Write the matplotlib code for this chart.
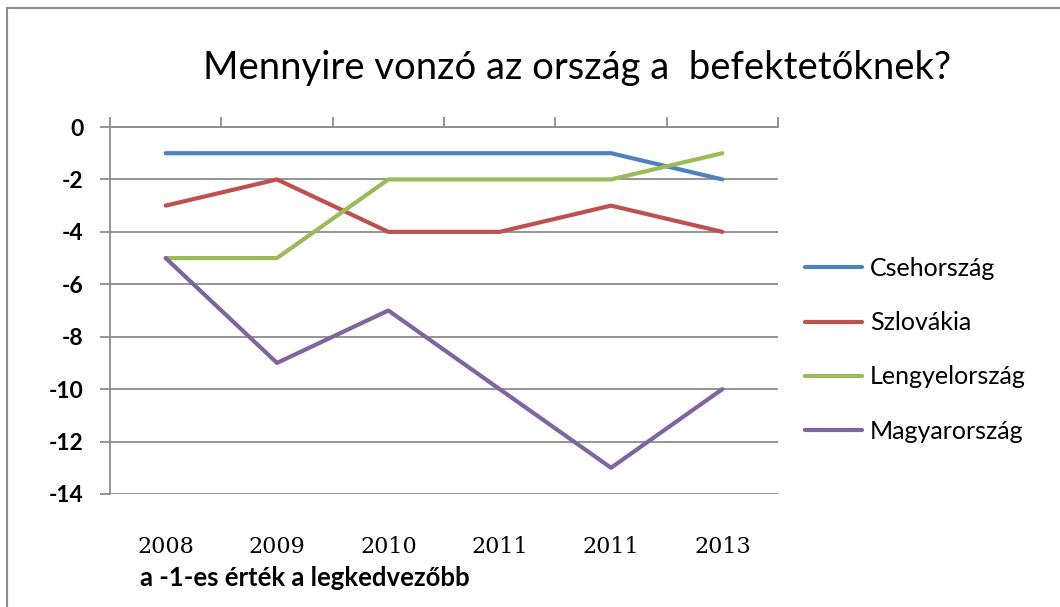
import matplotlib
matplotlib.use("Agg")
import matplotlib.pyplot as plt
from matplotlib.lines import Line2D

# adatok
evek = ["2008", "2009", "2010", "2011", "2011", "2013"]
orszagok = ["Csehország", "Szlovákia", "Lengyelország", "Magyarország"]
cseh = [-1, -1, -1, -1, -1, -2]
szlovak = [-3, -2, -4, -4, -3, -4]
lengyel = [-5, -5, -2, -2, -2, -1]
magyar = [-5, -9, -7, -10, -13, -10]
szinek = ["#4F81BD", "#C0504D", "#9BBB59", "#8064A2"]
y_ticks = [0, -2, -4, -6, -8, -10, -12, -14]

szurke = "#8c8c8c"

fig = plt.figure(figsize=(10.6, 6.07), dpi=100)
ax = fig.add_axes([110/1060, 1-494/607, 668/1060, 367/607])

x = range(len(evek))
for adat, nev, szin in zip([cseh, szlovak, lengyel, magyar], orszagok, szinek):
    ax.plot(x, adat, color=szin, linewidth=3, label=nev, solid_capstyle="round", zorder=3)

ax.set_xlim(-0.5, len(evek)-0.5)
ax.set_ylim(-14, 0)
ax.set_yticks(y_ticks)
ax.set_yticklabels([str(v) for v in y_ticks], fontsize=16.5, family="Lato", fontweight="bold")
for v in y_ticks:
    ax.axhline(v, color=szurke, linewidth=1.3, zorder=1)

ax.set_xticks(list(x))
ax.set_xticklabels(evek, fontsize=16, family="DejaVu Serif")
ax.set_xticks([i-0.5 for i in range(len(evek)+1)], minor=True)
ax.tick_params(axis="x", which="major", length=0, pad=30)
ax.tick_params(axis="x", which="minor", top=True, bottom=False, length=7, width=1.3,
               color=szurke, direction="out")
ax.tick_params(axis="y", length=7, width=1.3, color=szurke, pad=12)

for s in ["right", "bottom"]:
    ax.spines[s].set_visible(False)
for s in ["top", "left"]:
    ax.spines[s].set_color(szurke)
    ax.spines[s].set_linewidth(1.3)

fig.text(577/1060, 1-68/607, "Mennyire vonzó az ország a  befektetőknek?",
         ha="center", va="center", fontsize=27.5, family="Lato")
fig.text(140/1060, 1-578/607, "a -1-es érték a legkedvezőbb",
         ha="left", va="center", fontsize=18.5, family="Lato", fontweight="bold")

fig.legend(loc="upper left", bbox_to_anchor=(805/1060, 1-257/607), frameon=False,
           prop={"family": "Lato", "size": 18}, handlelength=2.28, handletextpad=0.32,
           labelspacing=1.25, borderaxespad=0, borderpad=0)

# keret
fig.add_artist(Line2D([7/1060, 1], [1-8/607, 1-8/607], color=szurke, linewidth=1.5))
fig.add_artist(Line2D([7/1060, 7/1060], [0, 1-8/607], color=szurke, linewidth=1.5))

fig.savefig("out.png", dpi=100)
